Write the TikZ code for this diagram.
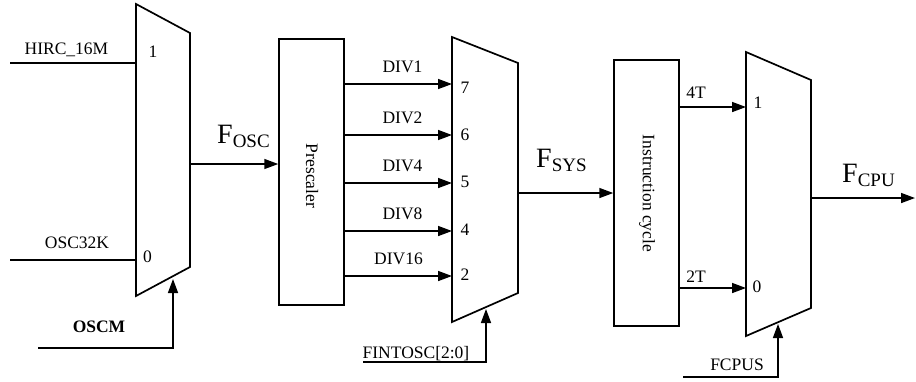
\documentclass[tikz,border=0pt]{standalone}
\usepackage{fontspec}
\setmainfont{Liberation Serif}
\usetikzlibrary{arrows.meta}
\begin{document}
\begin{tikzpicture}[x=1pt,y=-1pt,
  wire/.style={line width=1.5pt},
  arr/.style={line width=1.5pt,-{Triangle[length=14pt,width=10pt]}},
  muxshape/.style={line width=1.7pt,line join=miter},
  blockbox/.style={draw,line width=1.5pt,minimum width=65pt,minimum height=266pt,inner sep=0pt},
  lbl/.style={font=\fontsize{17.5}{19}\selectfont,inner sep=0pt,anchor=base},
  big/.style={inner sep=0pt,anchor=base west}]
\useasboundingbox (0,0) rectangle (916,381);
\newcommand{\bigF}[1]{{\fontsize{28}{30}\selectfont F}\raisebox{-4pt}{\fontsize{19}{20}\selectfont #1}}

% MUX 1
\coordinate (m1a) at (136,4);
\coordinate (m1b) at (190,33);
\coordinate (m1c) at (190,267);
\coordinate (m1d) at (136,296);
\draw[muxshape] (m1a) -- (m1b) -- (m1c) -- (m1d) -- cycle;
\coordinate (m1i1) at (136,63);
\coordinate (m1i0) at (136,260);
\coordinate (m1o) at (190,164);
\coordinate (m1s) at (173,279);
\coordinate (hircs) at (10,63);
\coordinate (oscs) at (10,260);
\coordinate (oscms) at (38,348);
\draw[wire] (hircs) -- (m1i1);
\draw[wire] (oscs) -- (m1i0);
\draw[arr] (oscms) -| (m1s);
\node[lbl] (thirc) at (66.5,54) {HIRC\_16M};
\node[lbl] (tosc32) at (77,248) {OSC32K};
\node[lbl] (tm1one) at (153,57) {1};
\node[lbl] (tm1zero) at (147.5,262) {0};
\node[lbl,font=\fontsize{17.5}{19}\selectfont\bfseries] (toscm) at (99,332) {OSCM};

% Prescaler
\node[blockbox] (pre) at (311.5,172) {};
\node[lbl,anchor=center,rotate=-90] (tpre) at (312,176) {Prescaler};
\draw[arr] (m1o) -- (pre.west |- m1o);
\node[big] (tfosc) at (217,143) {\bigF{OSC}};

% MUX 2
\coordinate (m2a) at (452,37);
\coordinate (m2b) at (518,63);
\coordinate (m2c) at (518,293);
\coordinate (m2d) at (452,322);
\draw[muxshape] (m2a) -- (m2b) -- (m2c) -- (m2d) -- cycle;
\foreach \y/\d/\n/\nb/\dx in {84/DIV1/7/93/402.5,135/DIV2/6/140/402.5,183/DIV4/5/187/402.5,231/DIV8/4/235/402.5,276/DIV16/2/280/398.5}{
  \coordinate (m2in\n) at (452,\y);
  \draw[arr] (pre.east |- m2in\n) -- (m2in\n);
  \node[lbl] (td\n) at (\dx,\y-12) {\d};
  \node[lbl] (tn\n) at (465,\nb) {\n};
}
\coordinate (m2s) at (486,309);
\coordinate (fints) at (363,362);
\draw[arr] (fints) -| (m2s);
\node[lbl] (tfint) at (416,358) {FINTOSC[2:0]};
\coordinate (m2o) at (518,193);

% Instruction cycle
\node[blockbox] (ic) at (646.5,193) {};
\node[lbl,anchor=center,rotate=-90] (tic) at (647,193.5) {Instruction cycle};
\draw[arr] (m2o) -- (ic.west |- m2o);
\node[big] (tfsys) at (536,167) {\bigF{SYS}};

% MUX 3
\coordinate (m3a) at (746,52);
\coordinate (m3b) at (811,80);
\coordinate (m3c) at (811,308);
\coordinate (m3d) at (746,336);
\draw[muxshape] (m3a) -- (m3b) -- (m3c) -- (m3d) -- cycle;
\coordinate (m3i1) at (746,107);
\coordinate (m3i0) at (746,288);
\draw[arr] (ic.east |- m3i1) -- (m3i1);
\draw[arr] (ic.east |- m3i0) -- (m3i0);
\node[lbl] (t4t) at (696,98) {4T};
\node[lbl] (t2t) at (696,282) {2T};
\node[lbl] (tm3one) at (758,108) {1};
\node[lbl] (tm3zero) at (757,292) {0};
\coordinate (m3s) at (778,324);
\coordinate (fcpuss) at (683,377);
\draw[arr] (fcpuss) -| (m3s);
\node[lbl] (tfcpus) at (737,370) {FCPUS};
\coordinate (m3o) at (811,198);
\coordinate (cpuend) at (915,198);
\draw[arr] (m3o) -- (cpuend);
\node[big] (tfcpu) at (842,182) {\bigF{CPU}};
\end{tikzpicture}
\end{document}
